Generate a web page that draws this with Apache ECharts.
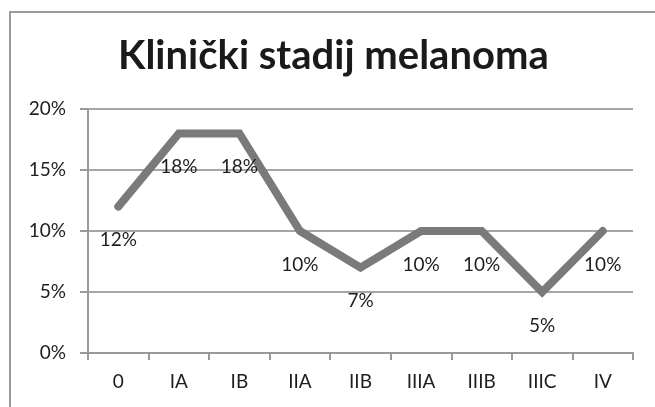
<!DOCTYPE html>
<html>
<head>
<meta charset="utf-8">
<script src="https://cdn.jsdelivr.net/npm/echarts@6/dist/echarts.min.js"></script>
<style>
  html, body { margin: 0; padding: 0; background: #fff; }
  #chart { width: 655px; height: 407px; }
</style>
</head>
<body>
<div id="chart"></div>
<script>
// stadiji i udjeli (%)
const categories = ['0', 'IA', 'IB', 'IIA', 'IIB', 'IIIA', 'IIIB', 'IIIC', 'IV']
const values = [12, 18, 18, 10, 7, 10, 10, 5, 10]
const yTicks = [0, 5, 10, 15, 20]

const chart = echarts.init(document.getElementById('chart'))
const font = 'Lato, "Open Sans", sans-serif'

chart.setOption({
  animation: false,
  backgroundColor: '#fff',
  title: {
    text: 'Klinički stadij melanoma',
    left: 113,
    top: 31,
    textStyle: { fontFamily: font, fontSize: 40, fontWeight: 'bold', color: '#1a1a1a' }
  },
  graphic: [
    {
      type: 'rect',
      shape: { x: 10, y: 12, width: 700, height: 500 },
      style: { fill: 'none', stroke: '#9a9a9a', lineWidth: 2 }
    }
  ],
  grid: { left: 88, right: 22, top: 109, bottom: 54 },
  xAxis: {
    type: 'category',
    data: categories,
    boundaryGap: true,
    axisLine: { lineStyle: { color: '#9a9a9a', width: 2 } },
    axisTick: { show: true, length: 7, lineStyle: { color: '#9a9a9a', width: 2 } },
    axisLabel: { fontFamily: font, fontSize: 19, color: '#1e1e1e', margin: 19 }
  },
  yAxis: {
    type: 'value',
    min: yTicks[0],
    max: yTicks[yTicks.length - 1],
    interval: 5,
    axisLine: { show: true, lineStyle: { color: '#9a9a9a', width: 2 } },
    axisTick: { show: true, length: 8, lineStyle: { color: '#9a9a9a', width: 2 } },
    axisLabel: { fontFamily: font, fontSize: 19, color: '#1e1e1e', margin: 22, formatter: '{value}%' },
    splitLine: { lineStyle: { color: '#a6a6a6', width: 2 } }
  },
  series: [
    {
      type: 'line',
      data: values,
      symbol: 'circle',
      symbolSize: 2,
      itemStyle: { color: '#7a7a7c' },
      lineStyle: { color: '#7a7a7c', width: 8, cap: 'round', join: 'miter' },
      label: {
        show: true,
        position: 'bottom',
        distance: 23,
        fontFamily: font,
        fontSize: 19,
        color: '#1e1e1e',
        formatter: p => p.value + '%'
      }
    }
  ]
})
</script>
</body>
</html>
